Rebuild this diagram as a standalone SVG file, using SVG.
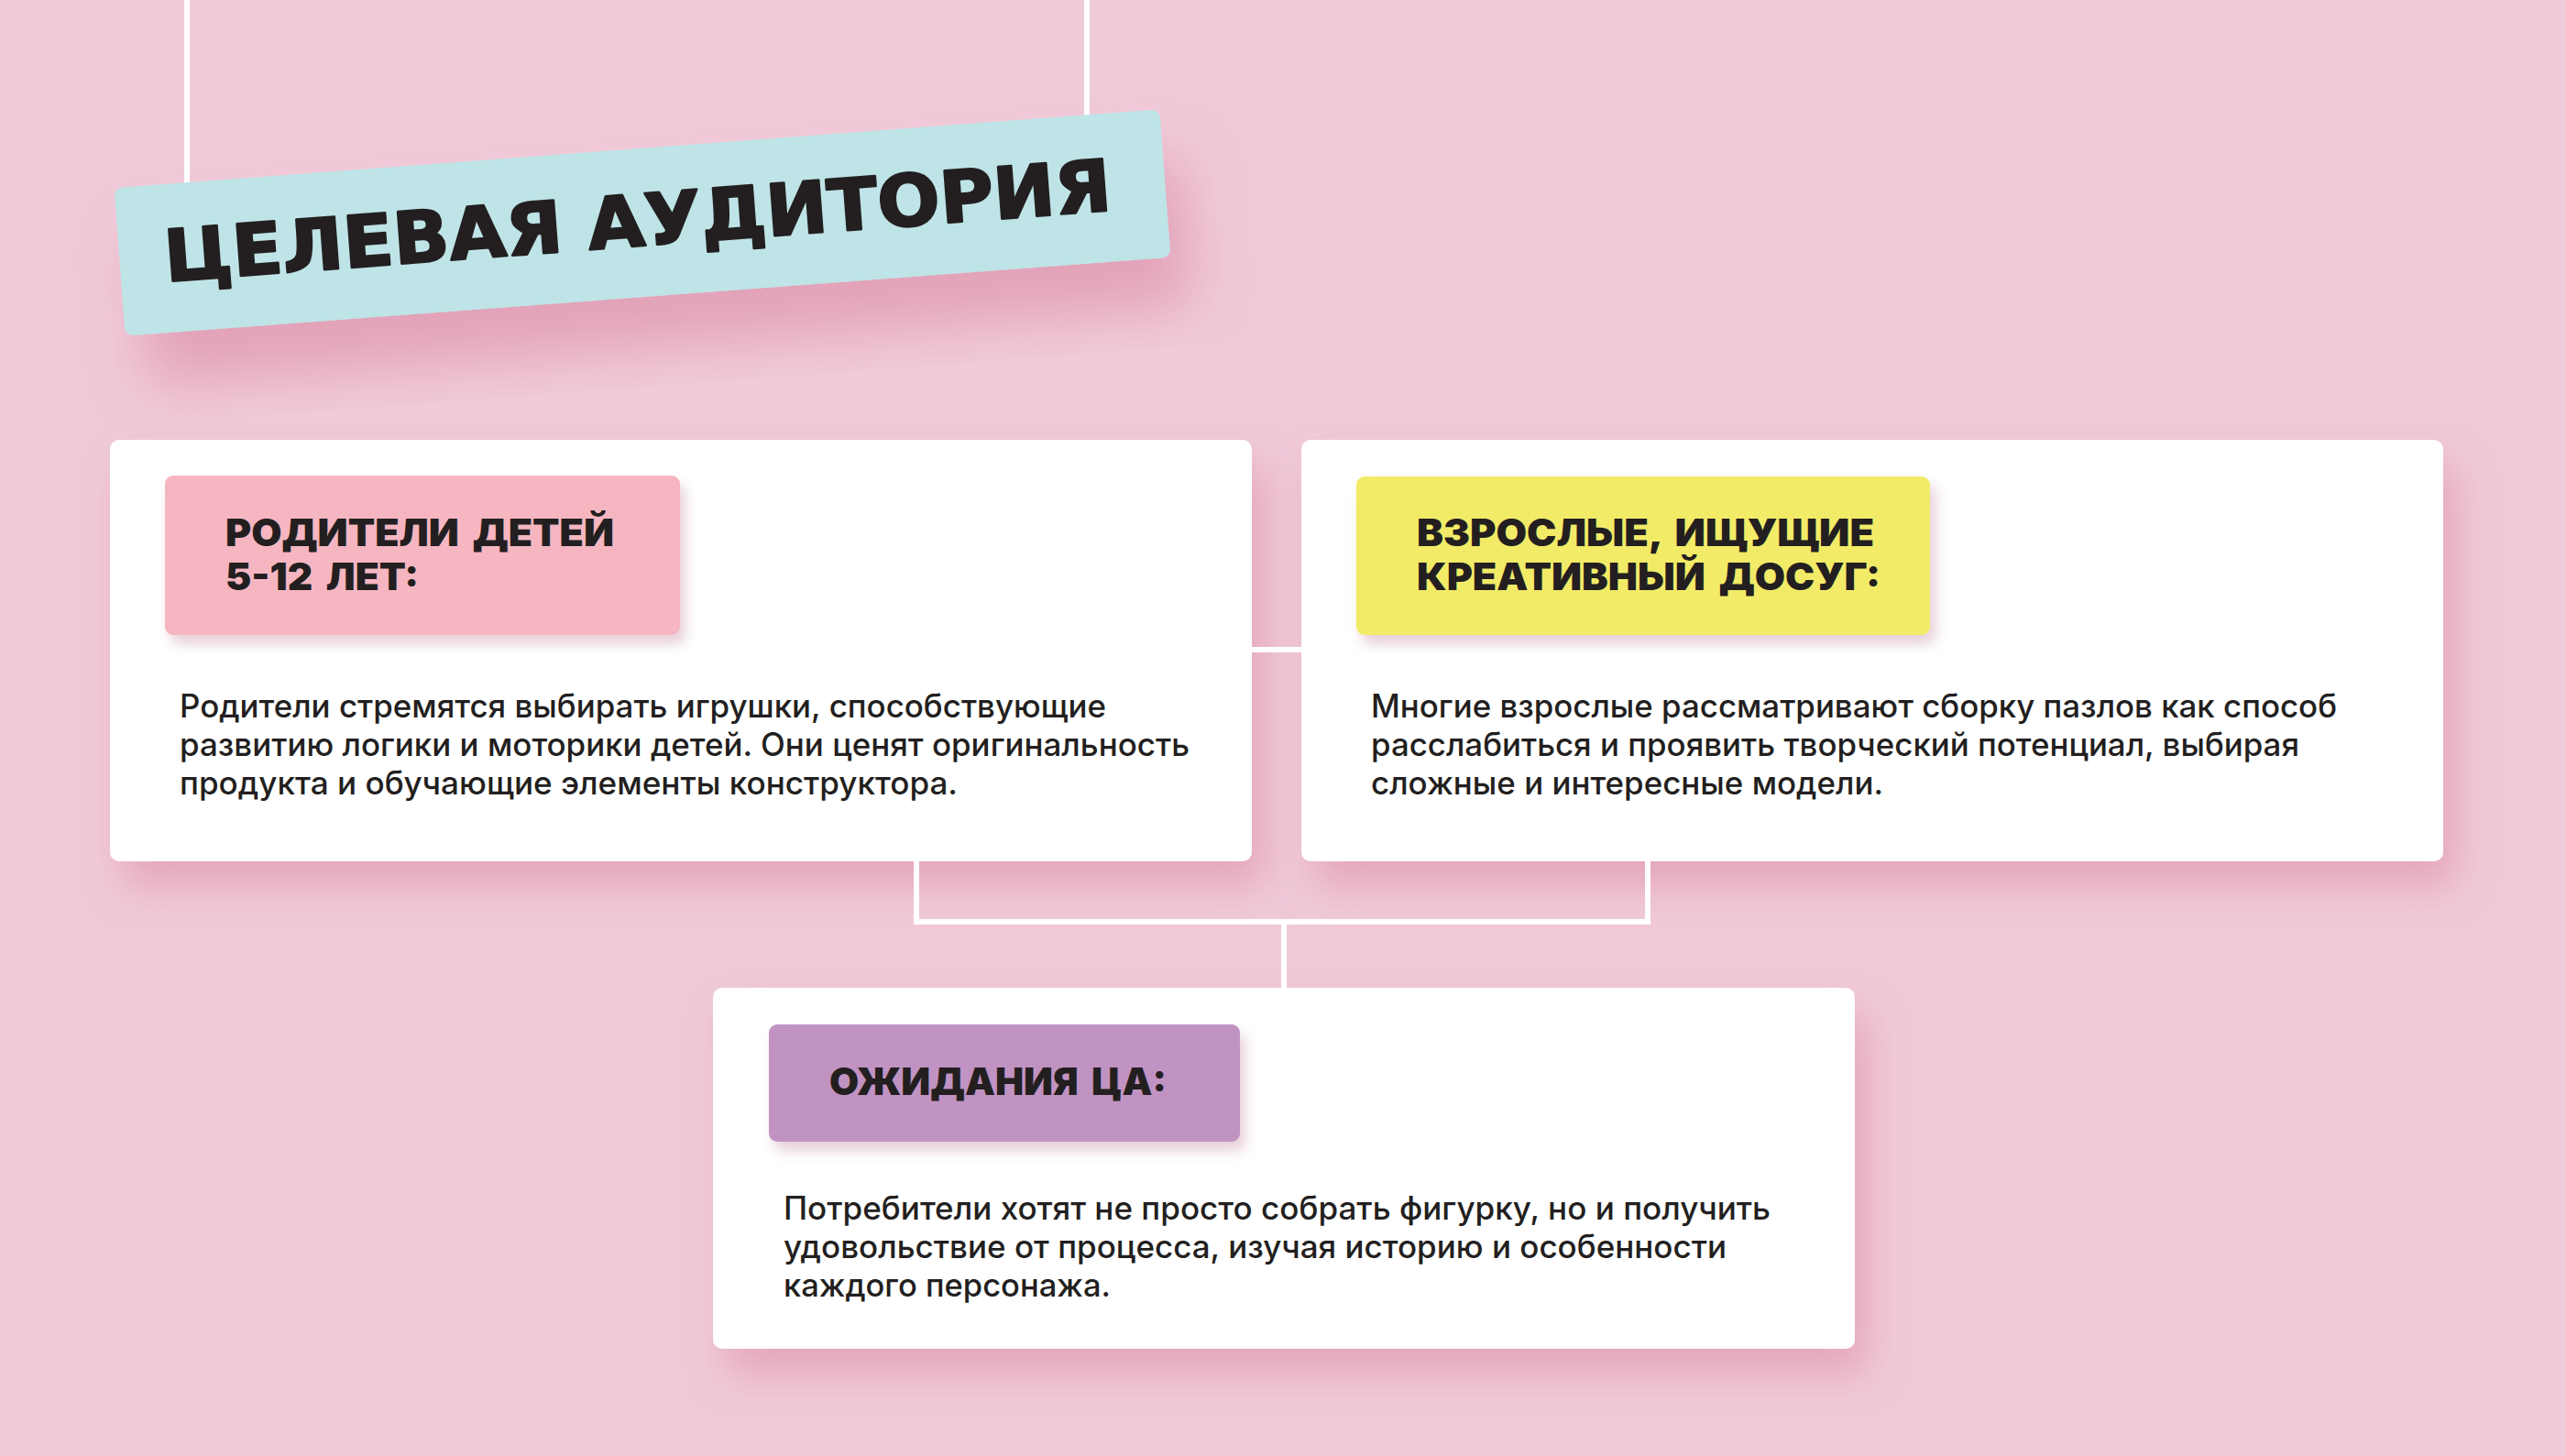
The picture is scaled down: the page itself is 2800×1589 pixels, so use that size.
<svg xmlns="http://www.w3.org/2000/svg" width="2800" height="1589" viewBox="0 0 2800 1589">
  <style>
    .bg { fill: #F0CAD8; }
    .card { fill: #FFFFFF; filter: url(#cardShadow); }
    .label { filter: url(#labelShadow); }
    .conn { stroke: #FFFFFF; stroke-width: 6; fill: none; }
    .head { font-family: "Inter", "Liberation Sans", "DejaVu Sans", sans-serif; font-weight: 900; fill: #231F20; font-size: 41px; word-spacing: 6px; }
    .body { font-family: "Inter", "Noto Sans", "Liberation Sans", sans-serif; font-weight: 500; fill: #231F20; font-size: 35px; }
    .title { font-family: "DejaVu Sans", "Liberation Sans", sans-serif; font-weight: 700; fill: #231F20; stroke: #231F20; stroke-width: 2.5; stroke-linejoin: round; font-size: 78px; }
  </style>
  <defs>
    <filter id="cardShadow" x="-10%" y="-10%" width="125%" height="135%">
      <feDropShadow dx="14" dy="28" stdDeviation="22" flood-color="#D8829F" flood-opacity="0.5"/>
    </filter>
    <filter id="labelShadow" x="-10%" y="-10%" width="125%" height="140%">
      <feDropShadow dx="6" dy="10" stdDeviation="7" flood-color="#B97890" flood-opacity="0.35"/>
    </filter>
    <filter id="bannerShadow" x="-10%" y="-30%" width="125%" height="190%">
      <feDropShadow dx="20" dy="55" stdDeviation="30" flood-color="#D8829F" flood-opacity="0.55"/>
    </filter>
  </defs>

  <rect class="bg" x="0" y="0" width="2800" height="1589"/>

  <g id="card-parents">
    <rect class="card" x="120" y="480" width="1246" height="460" rx="10"/>
    <rect class="label" x="180" y="519" width="562" height="174" rx="9" fill="#F6B6C1"/>
    <text class="head" x="246" y="596" textLength="424" lengthAdjust="spacingAndGlyphs">РОДИТЕЛИ ДЕТЕЙ</text>
    <text class="head" x="246" y="644" textLength="211" lengthAdjust="spacingAndGlyphs">5-12 ЛЕТ:</text>
    <text class="body" x="196" y="783" textLength="1011" lengthAdjust="spacingAndGlyphs">Родители стремятся выбирать игрушки, способствующие</text>
    <text class="body" x="196" y="825" textLength="1102" lengthAdjust="spacingAndGlyphs">развитию логики и моторики детей. Они ценят оригинальность</text>
    <text class="body" x="196" y="867" textLength="849" lengthAdjust="spacingAndGlyphs">продукта и обучающие элементы конструктора.</text>
  </g>

  <g id="card-adults">
    <rect class="card" x="1420" y="480" width="1246" height="460" rx="10"/>
    <rect class="label" x="1480" y="520" width="626" height="173" rx="9" fill="#F2EB68"/>
    <text class="head" x="1546" y="596" textLength="499" lengthAdjust="spacingAndGlyphs">ВЗРОСЛЫЕ, ИЩУЩИЕ</text>
    <text class="head" x="1546" y="644" textLength="506" lengthAdjust="spacingAndGlyphs">КРЕАТИВНЫЙ ДОСУГ:</text>
    <text class="body" x="1496" y="783" textLength="1054" lengthAdjust="spacingAndGlyphs">Многие взрослые рассматривают сборку пазлов как способ</text>
    <text class="body" x="1496" y="825" textLength="1013" lengthAdjust="spacingAndGlyphs">расслабиться и проявить творческий потенциал, выбирая</text>
    <text class="body" x="1496" y="867" textLength="559" lengthAdjust="spacingAndGlyphs">сложные и интересные модели.</text>
  </g>

  <g id="card-expectations">
    <rect class="card" x="778" y="1078" width="1246" height="394" rx="10"/>
    <rect class="label" x="839" y="1118" width="514" height="128" rx="9" fill="#C193C3"/>
    <text class="head" x="905" y="1195" textLength="368" lengthAdjust="spacingAndGlyphs">ОЖИДАНИЯ ЦА:</text>
    <text class="body" x="855" y="1331" textLength="1077" lengthAdjust="spacingAndGlyphs">Потребители хотят не просто собрать фигурку, но и получить</text>
    <text class="body" x="855" y="1373" textLength="1029" lengthAdjust="spacingAndGlyphs">удовольствие от процесса, изучая историю и особенности</text>
    <text class="body" x="855" y="1415" textLength="357" lengthAdjust="spacingAndGlyphs">каждого персонажа.</text>
  </g>

  <g id="connectors">
    <line class="conn" x1="204" y1="0" x2="204" y2="210"/>
    <line class="conn" x1="1186" y1="0" x2="1186" y2="130"/>
    <line class="conn" x1="1364" y1="709" x2="1422" y2="709"/>
    <path class="conn" d="M1000 938 V1006 H1798 V938"/>
    <line class="conn" x1="1401" y1="1006" x2="1401" y2="1080"/>
  </g>

  <g id="title-banner" transform="translate(701,243) rotate(-4.3)">
    <rect x="-572" y="-81" width="1144" height="162" rx="9" fill="#BEE4E7" filter="url(#bannerShadow)"/>
    <text class="title" x="-5" y="25" text-anchor="middle" textLength="1036" lengthAdjust="spacingAndGlyphs">ЦЕЛЕВАЯ АУДИТОРИЯ</text>
  </g>
</svg>
